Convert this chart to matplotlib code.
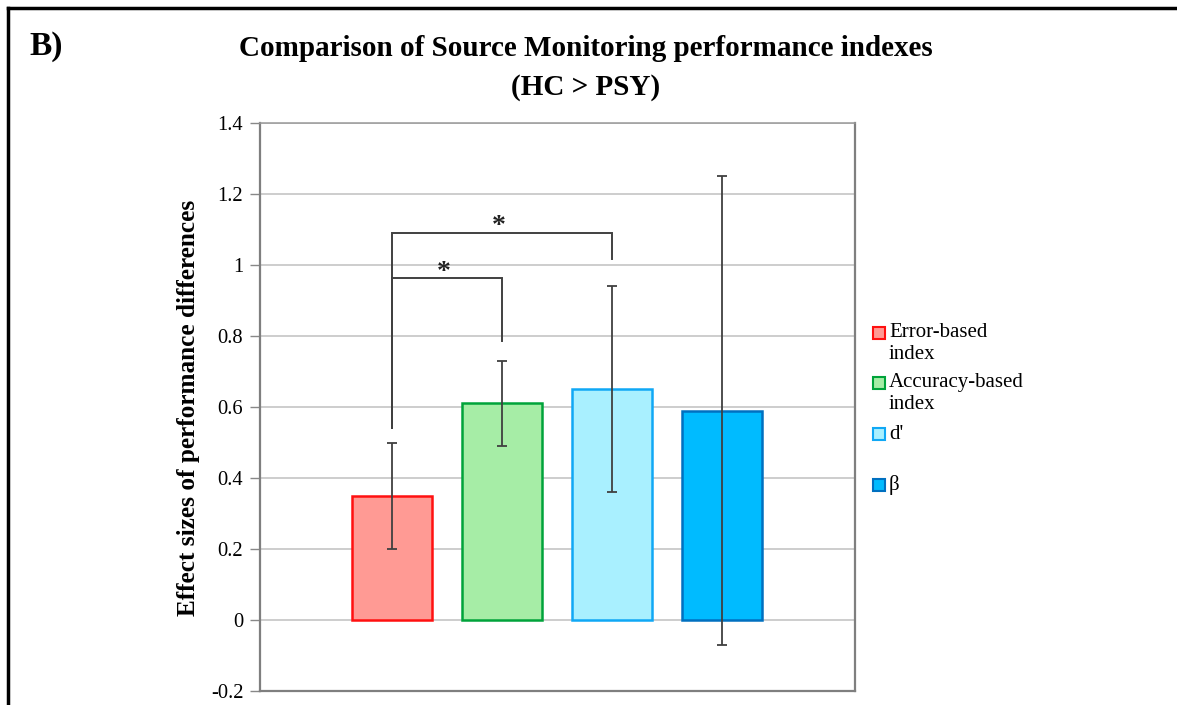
import matplotlib
matplotlib.use("Agg")
import matplotlib.pyplot as plt
from matplotlib.lines import Line2D
from matplotlib.patches import Rectangle

# ---- data ----
series_labels = ["Error-based\nindex", "Accuracy-based\nindex", "d'", "β"]
values = [0.35, 0.61, 0.65, 0.59]
err_low = [0.20, 0.49, 0.36, -0.07]
err_high = [0.50, 0.73, 0.94, 1.25]
fill_colors = ["#FF9A94", "#A6EDA6", "#A9F0FF", "#00BBFF"]
edge_colors = ["#FF1010", "#00A33A", "#10A8F5", "#0070C0"]
y_ticks = [-0.2, 0, 0.2, 0.4, 0.6, 0.8, 1, 1.2, 1.4]
y_tick_labels = ["-0.2", "0", "0.2", "0.4", "0.6", "0.8", "1", "1.2", "1.4"]
# significance brackets: (bar_from, bar_to, bracket height, left drop, right drop, star x, star y)
brackets = [
    (0, 2, 1.09, 0.54, 1.017, 0.97, 1.108),
    (0, 1, 0.963, 0.54, 0.786, 0.47, 0.978),
]
title = "Comparison of Source Monitoring performance indexes\n(HC > PSY)"
ylabel = "Effect sizes of performance differences"

plt.rcParams['font.family'] = ['Liberation Serif', 'DejaVu Serif']

fig = plt.figure(figsize=(11.77, 7.05), dpi=100)
ax = fig.add_axes([260/1177, 1-691/705, (855-260)/1177, (691-123)/705])

xs = list(range(len(values)))
bar_w = 0.72
for x, v, fc, ec in zip(xs, values, fill_colors, edge_colors):
    ax.bar(x, v, width=bar_w, color=fc, edgecolor=ec, linewidth=1.8, zorder=3)

yerr = [[v - lo for v, lo in zip(values, err_low)], [hi - v for v, hi in zip(values, err_high)]]
ax.errorbar(xs, values, yerr=yerr, fmt='none', ecolor='#404040', elinewidth=1.3,
            capsize=3.8, capthick=1.3, zorder=4)

for (a, b, h, dl, dr, sx, sy) in brackets:
    ax.plot([xs[a], xs[a], xs[b], xs[b]], [dl, h, h, dr], color='#404040', lw=1.4,
            zorder=5, solid_joinstyle='miter')
    ax.text(sx, sy, "*", ha='center', va='center', fontsize=20, fontweight='bold', color='#222222')

ax.set_xlim(-1.2, 4.21)
ax.set_ylim(-0.2, 1.4)
ax.set_yticks(y_ticks)
ax.set_yticklabels(y_tick_labels, fontsize=14.8)
ax.set_xticks([])
ax.tick_params(axis='y', direction='out', length=7, width=1, color='#888888', pad=5)
ax.grid(axis='y', color='#C0C0C0', lw=1.1, zorder=0)
ax.set_axisbelow(True)
for s in ax.spines.values():
    s.set_color('#7F7F7F')
    s.set_linewidth(1.6)
ax.spines['top'].set_color('#999999')
ax.spines['top'].set_linewidth(1.1)

fig.text(189/1177, 1-408/705, ylabel, rotation=90, ha='center', va='center',
         fontsize=18.2, fontweight='bold')

fig.text(586/1177, 1-68/705, title, ha='center', va='center', fontsize=21,
         fontweight='bold', linespacing=1.52)
fig.text(29/1177, 1-46/705, "B)", ha='left', va='center', fontsize=24, fontweight='bold')

# legend (manual)
leg_y = [332.5, 382.5, 434.5, 485]
for lab, fc, ec, yy in zip(series_labels, fill_colors, edge_colors, leg_y):
    fig.patches.append(Rectangle((873/1177, 1-(yy+6)/705), 12/1177, 12/705,
                                 transform=fig.transFigure, facecolor=fc, edgecolor=ec,
                                 linewidth=1.5))
    lines = lab.split("\n")
    for i, ln in enumerate(lines):
        fig.text(889/1177, 1-(yy + i*22)/705, ln, ha='left', va='center', fontsize=15)

# outer frame (left and top)
fig.add_artist(Line2D([8/1177, 8/1177], [0, 1-8/705], transform=fig.transFigure, color='black', lw=2.5))
fig.add_artist(Line2D([8/1177, 1], [1-8/705, 1-8/705], transform=fig.transFigure, color='black', lw=2.5))

fig.savefig("out.png", dpi=100)
